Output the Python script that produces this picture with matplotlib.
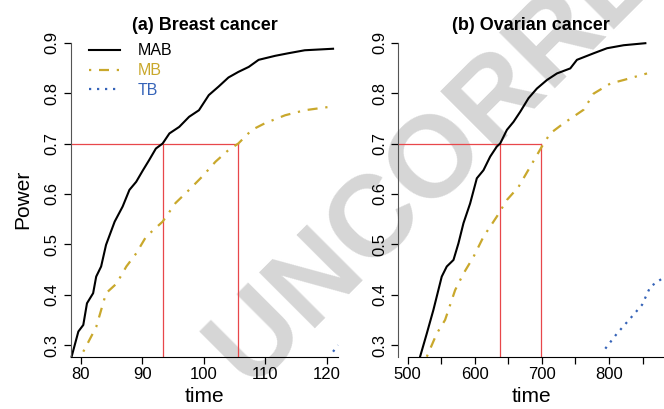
import numpy as np
import matplotlib
matplotlib.use('Agg')
import matplotlib.pyplot as plt

plt.rcParams['font.family'] = ['Liberation Sans', 'DejaVu Sans']

# (a) Breast cancer
a_mab_t = [78.5, 79.6, 80.4, 81.0, 82.0, 82.5, 83.3, 84.1, 85.5, 86.8, 87.9, 89.0, 90.1,
           91.1, 92.2, 93.3, 94.4, 96.0, 97.6, 99.2, 100.8, 102.4, 104.0, 105.6, 107.3,
           108.9, 111.6, 113.7, 116.4, 121.0]
a_mab_p = [0.277, 0.327, 0.340, 0.383, 0.403, 0.436, 0.456, 0.499, 0.545, 0.575, 0.608,
           0.624, 0.647, 0.667, 0.690, 0.700, 0.720, 0.733, 0.753, 0.766, 0.796, 0.813,
           0.831, 0.842, 0.852, 0.866, 0.874, 0.879, 0.885, 0.888]
a_mb_t = [80.4, 82.5, 84.1, 85.8, 87.4, 89.0, 90.6, 93.3, 95.4, 97.6, 99.7, 101.9, 104.0,
          105.6, 107.8, 109.9, 113.2, 116.4, 121.2]
a_mb_p = [0.287, 0.336, 0.403, 0.422, 0.456, 0.482, 0.515, 0.545, 0.582, 0.608, 0.634,
          0.664, 0.687, 0.700, 0.727, 0.740, 0.756, 0.766, 0.774]
a_tb_t = [121.0, 121.8]
a_tb_p = [0.287, 0.300]
a_cross = [93.3, 105.6]

# (b) Ovarian cancer
b_mab_t = [518.4, 528.4, 538.3, 550.7, 558.2, 568.2, 575.6, 583.1, 593.0, 603.0, 612.9,
           622.9, 632.8, 637.8, 647.8, 657.7, 667.7, 680.1, 692.5, 707.5, 722.4, 742.3,
           752.2, 777.1, 797.0, 821.9, 854.2]
b_mab_p = [0.277, 0.323, 0.370, 0.436, 0.456, 0.469, 0.502, 0.542, 0.581, 0.631, 0.647,
           0.674, 0.694, 0.700, 0.727, 0.743, 0.763, 0.790, 0.809, 0.826, 0.839, 0.849,
           0.866, 0.879, 0.889, 0.895, 0.899]
b_mb_t = [528.4, 543.3, 555.7, 570.6, 583.1, 598.0, 612.9, 632.8, 647.8, 665.2, 682.6,
          700.0, 712.4, 732.3, 762.2, 777.1, 802.0, 821.9, 856.7]
b_mb_p = [0.277, 0.323, 0.350, 0.409, 0.442, 0.475, 0.515, 0.555, 0.588, 0.614, 0.654,
          0.694, 0.720, 0.740, 0.767, 0.799, 0.819, 0.826, 0.839]
b_tb_t = [794.5, 811.9, 831.8, 849.3, 861.7, 879.1]
b_tb_p = [0.293, 0.323, 0.353, 0.380, 0.416, 0.432]
b_cross = [636.8, 698.5]

target = 0.7
yticks = [0.3, 0.4, 0.5, 0.6, 0.7, 0.8, 0.9]
a_xticks = [80, 90, 100, 110, 120]
b_xticks = [500, 550, 600, 650, 700, 750, 800, 850]
b_xlabels = ['500', '', '600', '', '700', '', '800', '']

c_mab = 'black'
c_mb = '#c9a82c'
c_tb = '#3563b8'
c_red = '#e8474a'

fig = plt.figure(figsize=(6.64, 4.09), dpi=100)

# watermark behind the panels
fig.text(0.378, 0.040, 'UNCORRECTED PROOF', fontsize=83, fontweight='bold',
         color='#d6d6d6', rotation=45, rotation_mode='anchor',
         ha='left', va='baseline', zorder=-1)

ax1 = fig.add_axes([0.1069, 0.1271, 0.4021, 0.7685])
ax2 = fig.add_axes([0.5994, 0.1271, 0.4006, 0.7685])

panels = [
    (ax1, a_mab_t, a_mab_p, a_mb_t, a_mb_p, a_tb_t, a_tb_p, a_cross,
     (78.4, 121.8), '(a) Breast cancer'),
    (ax2, b_mab_t, b_mab_p, b_mb_t, b_mb_p, b_tb_t, b_tb_p, b_cross,
     (485.5, 882), '(b) Ovarian cancer'),
]

for ax, mt, mp, bt, bp, tt, tp, cross, xlim, title in panels:
    ax.patch.set_alpha(0)
    ax.set_xlim(*xlim)
    ax.set_ylim(0.2764, 0.9)
    ymin = ax.get_ylim()[0]
    ax.plot([xlim[0], cross[1]], [target, target], color=c_red, lw=0.9)
    for c in cross:
        ax.plot([c, c], [ymin, target], color=c_red, lw=0.9)
    ax.plot(mt, mp, color=c_mab, lw=1.5, label='MAB', clip_on=False)
    ax.plot(bt, bp, color=c_mb, lw=1.6, dashes=(1, 3.5, 4.5, 3.5), label='MB', clip_on=False)
    ax.plot(tt, tp, color=c_tb, lw=1.6, dashes=(1, 2.6), label='TB', clip_on=False)
    ax.spines['top'].set_visible(False)
    ax.spines['right'].set_visible(False)
    ax.spines['left'].set_color('#555555')
    ax.set_yticks(yticks)
    ax.set_yticklabels([str(v) for v in yticks], rotation=90, va='center')
    ax.tick_params(labelsize=12, length=5, width=0.9)
    ax.tick_params(axis='y', pad=3)
    ax.tick_params(axis='x', pad=2)
    ax.set_xlabel('time', fontsize=15, labelpad=4)
    ax.set_title(title, fontsize=13, fontweight='bold', pad=9)

ax1.set_xticks(a_xticks)
ax2.set_xticks(b_xticks)
ax2.set_xticklabels(b_xlabels)
ax2.spines['bottom'].set_bounds(500, 882)
ax1.set_ylabel('Power', fontsize=15, labelpad=9)

leg = ax1.legend(loc='upper left', frameon=False, fontsize=11.5, handlelength=1.9,
                 borderaxespad=0.0, labelspacing=0.3, handletextpad=1.1,
                 bbox_to_anchor=(0.045, 1.018))
for txt, col in zip(leg.get_texts(), [c_mab, c_mb, c_tb]):
    txt.set_color(col)

fig.savefig('out.png', dpi=100)
